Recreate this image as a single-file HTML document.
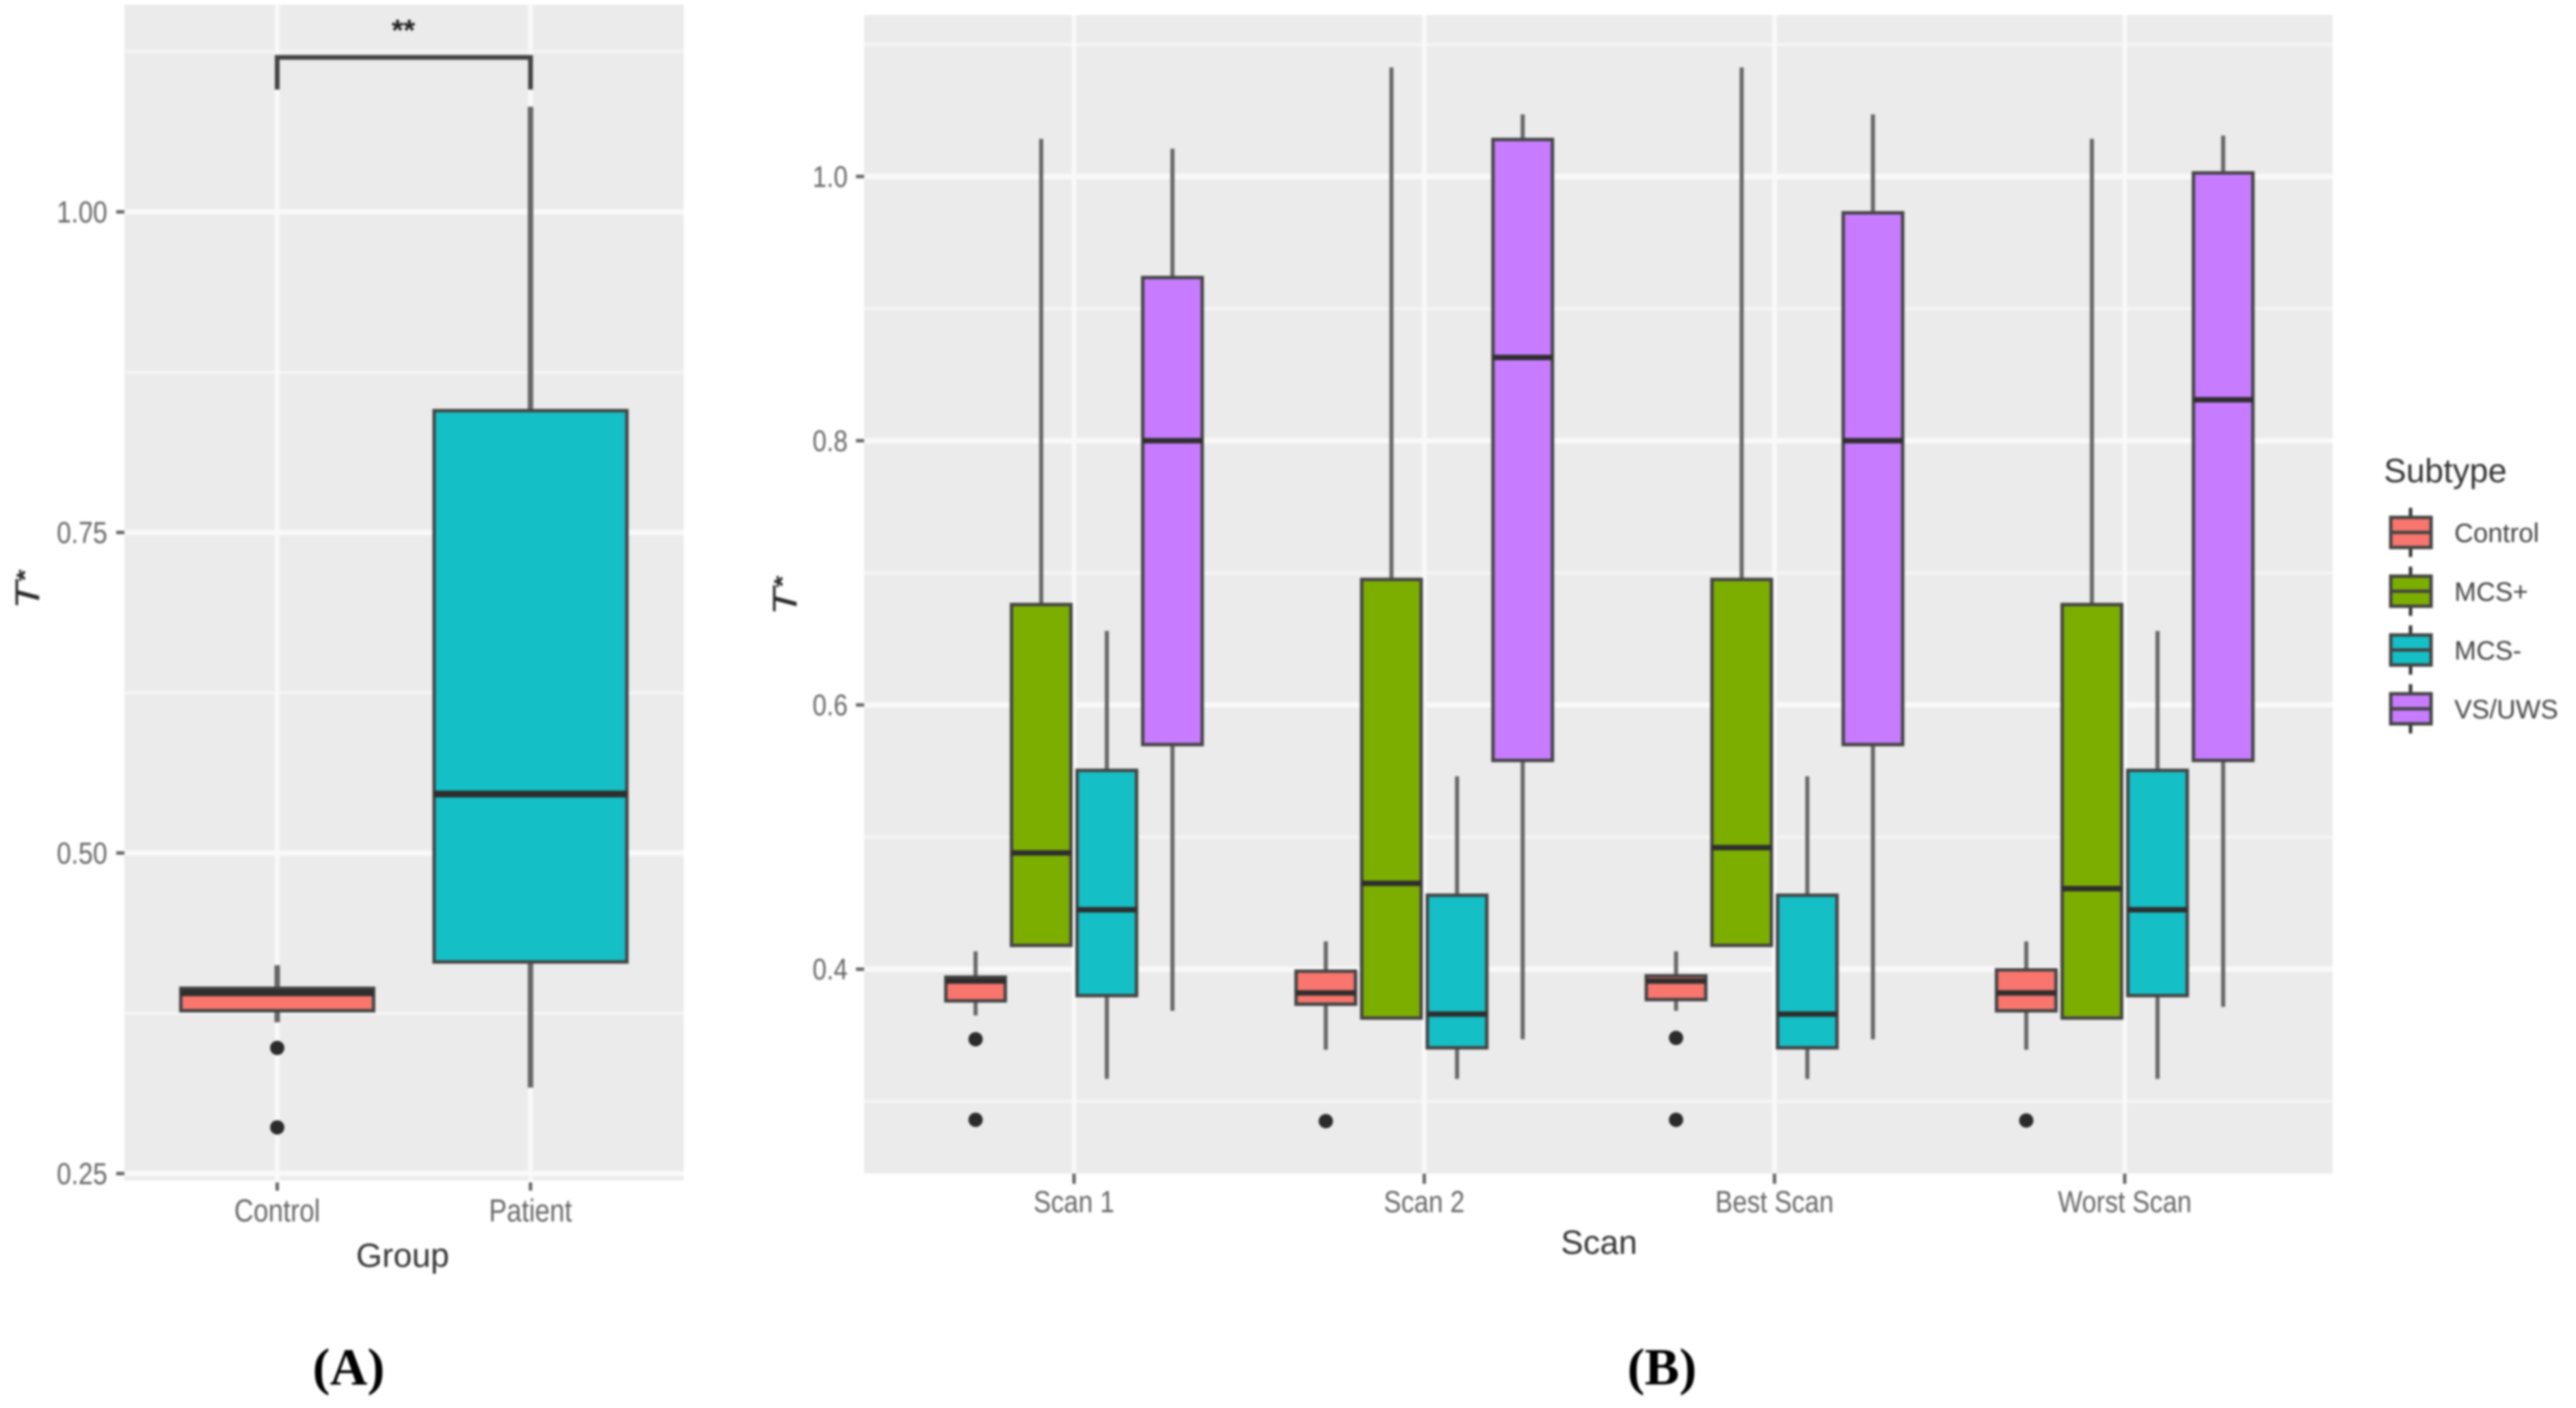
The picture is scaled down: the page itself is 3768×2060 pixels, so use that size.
<!DOCTYPE html>
<html lang="en">
<head>
<meta charset="utf-8">
<title>T* by group and by scan</title>
<style>
html,body{margin:0;padding:0;background:#fff;width:3768px;height:2060px;overflow:hidden}
svg{display:block;filter:blur(1.6px)}
text{font-family:"Liberation Sans",sans-serif}
</style>
</head>
<body>
<svg id="fig" xmlns="http://www.w3.org/2000/svg" width="3768" height="2060" viewBox="0 0 3768 2060"></svg>
<script>
// ---------- Panel A data ----------
const groupCategories = ['Control', 'Patient'];
const groupFillColors = ['#F8766D', '#14BFC5'];
const groupWhiskerHigh = [0.4125, 1.082];
const groupQ3 = [0.3945, 0.845];
const groupMedian = [0.391, 0.546];
const groupQ1 = [0.377, 0.415];
const groupWhiskerLow = [0.368, 0.317];
const groupOutliers = [[0.348, 0.286], []];
const groupMajorTicks = [0.25, 0.50, 0.75, 1.00];
const groupMinorTicks = [0.375, 0.625, 0.875, 1.125];
const groupTickLabels = ['0.25', '0.50', '0.75', '1.00'];

// ---------- Panel B data ----------
const scanCategories = ['Scan 1', 'Scan 2', 'Best Scan', 'Worst Scan'];
const subtypes = ['Control', 'MCS+', 'MCS-', 'VS/UWS'];
const subtypeColors = ['#F8766D', '#7CAE00', '#14BFC5', '#C77CFF'];
// each row is one scan, each column one subtype
const scanWhiskerHigh = [
  [0.4135, 1.0285, 0.656, 1.021],
  [0.421, 1.0825, 0.546, 1.047],
  [0.4135, 1.0825, 0.546, 1.047],
  [0.421, 1.0285, 0.656, 1.031]
];
const scanQ3 = [
  [0.394, 0.676, 0.5505, 0.9235],
  [0.3985, 0.695, 0.456, 1.028],
  [0.395, 0.695, 0.456, 0.9725],
  [0.3995, 0.676, 0.5505, 1.0027]
];
const scanMedian = [
  [0.391, 0.488, 0.445, 0.80],
  [0.382, 0.465, 0.366, 0.863],
  [0.391, 0.492, 0.366, 0.80],
  [0.382, 0.461, 0.445, 0.831]
];
const scanQ1 = [
  [0.376, 0.418, 0.380, 0.57],
  [0.3735, 0.363, 0.3405, 0.558],
  [0.377, 0.418, 0.3405, 0.57],
  [0.3685, 0.363, 0.380, 0.558]
];
const scanWhiskerLow = [
  [0.365, 0.418, 0.317, 0.3685],
  [0.339, 0.363, 0.317, 0.347],
  [0.3685, 0.418, 0.317, 0.347],
  [0.339, 0.363, 0.317, 0.3715]
];
const scanControlOutliers = [
  [0.347, 0.286],
  [0.285],
  [0.348, 0.286],
  [0.2855]
];
const scanMajorTicks = [0.4, 0.6, 0.8, 1.0];
const scanMinorTicks = [0.3, 0.5, 0.7, 0.9, 1.1];
const scanTickLabels = ['0.4', '0.6', '0.8', '1.0'];

const NS = 'http://www.w3.org/2000/svg';
const fig = document.getElementById('fig');

function make(tag, attrs, parent, name) {
  const el = document.createElementNS(NS, tag);
  for (const k in attrs) el.setAttribute(k, attrs[k]);
  
  
  parent.appendChild(el);
  return el;
}
function label(str, x, y, size, fill, anchor, parent, name) {
  const t = make('text', {x: x, y: y + size * 0.36, 'font-size': size, fill: fill, 'text-anchor': anchor}, parent, name);
  t.textContent = str;
  return t;
}
// tick labels in the reference are slightly stretched vertically
function tickLabel(str, x, y, size, anchor, parent, name) {
  const t = label(str, x, y + 2, size, '#666', anchor, parent, name);
  const by = y + 2 + size * 0.36 + size * 0.03;
  t.setAttribute('transform', 'translate(0,' + by + ') scale(1,1.18) translate(0,' + (-by) + ')');
  return t;
}
function panelBackground(g, box, yScale, major, minor, xs) {
  make('rect', {x: box.l, y: box.t, width: box.r - box.l, height: box.b - box.t, fill: '#ebebeb'}, g, 'panel-background');
  minor.forEach(v => make('line', {x1: box.l, x2: box.r, y1: yScale(v), y2: yScale(v), stroke: '#f4f4f4', 'stroke-width': 5}, g, 'minor-gridline'));
  major.forEach(v => make('line', {x1: box.l, x2: box.r, y1: yScale(v), y2: yScale(v), stroke: '#f9f9f9', 'stroke-width': 8}, g, 'major-gridline-y'));
  xs.forEach(x => make('line', {x1: x, x2: x, y1: box.t, y2: box.b, stroke: '#f9f9f9', 'stroke-width': 7}, g, 'major-gridline-x'));
}
function boxplot(g, cx, w, yScale, s, fill, lw) {
  make('line', {x1: cx, x2: cx, y1: yScale(s.high), y2: yScale(s.q3), stroke: '#666', 'stroke-width': lw.whisker}, g, 'whisker-upper');
  make('line', {x1: cx, x2: cx, y1: yScale(s.q1), y2: yScale(s.low), stroke: '#666', 'stroke-width': lw.whisker}, g, 'whisker-lower');
  make('rect', {x: cx - w / 2, y: yScale(s.q3), width: w, height: yScale(s.q1) - yScale(s.q3), fill: fill, stroke: '#444', 'stroke-width': lw.box}, g, 'box');
  make('line', {x1: cx - w / 2, x2: cx + w / 2, y1: yScale(s.med), y2: yScale(s.med), stroke: '#2e2e2e', 'stroke-width': lw.median}, g, 'median-line');
  s.out.forEach(v => make('circle', {cx: cx, cy: yScale(v), r: 10.5, fill: '#2b2b2b'}, g, 'outlier-point'));
}
function yTitle(parent, x, y, name) {
  const t = make('text', {transform: 'translate(' + x + ',' + y + ') rotate(-90) scale(1.35,1)', 'font-size': 50, 'font-style': 'italic', fill: '#2a2a2a'}, parent, name);
  t.appendChild(document.createTextNode('T'));
  const star = document.createElementNS(NS, 'tspan');
  star.setAttribute('dy', '-9');
  star.setAttribute('font-size', '34');
  star.setAttribute('font-weight', 'bold');
  star.setAttribute('font-style', 'normal');
  star.textContent = '*';
  t.appendChild(star);
}

// ---------- Panel A ----------
(function () {
  const g = make('g', {}, fig, 'panel-a');
  const box = {l: 182, r: 1000, t: 7, b: 1727};
  const yA = v => 1717 - (v - 0.25) * 1876;
  const xA = i => 405.5 + i * 370.5;
  panelBackground(g, box, yA, groupMajorTicks, groupMinorTicks, groupCategories.map((c, i) => xA(i)));
  groupMajorTicks.forEach((v, i) => {
    make('line', {x1: 170, x2: 182, y1: yA(v), y2: yA(v), stroke: '#666', 'stroke-width': 5}, g, 'y-tick');
    tickLabel(groupTickLabels[i], 157, yA(v), 38, 'end', g, 'y-tick-label');
  });
  groupCategories.forEach((c, i) => {
    make('line', {x1: xA(i), x2: xA(i), y1: 1730, y2: 1742, stroke: '#666', 'stroke-width': 5}, g, 'x-tick');
    tickLabel(c, xA(i), 1771, 39, 'middle', g, 'x-tick-label');
    boxplot(g, xA(i), 282, yA, {
      high: groupWhiskerHigh[i], q3: groupQ3[i], med: groupMedian[i], q1: groupQ1[i],
      low: groupWhiskerLow[i], out: groupOutliers[i]
    }, groupFillColors[i], {whisker: 8, box: 5, median: 10});
  });
  make('path', {d: 'M' + xA(0) + ' 131V84H' + xA(1) + 'V131', fill: 'none', stroke: '#444', 'stroke-width': 7}, g, 'significance-bracket');
  label('**', 590, 43, 44, '#222', 'middle', g, 'significance-label').setAttribute('font-weight', 'bold');
  label('Group', 589, 1836, 49, '#333', 'middle', g, 'x-axis-title');
  yTitle(g, 57, 892, 'y-axis-title');
  label('(A)', 510, 1998, 76, '#000', 'middle', g, 'panel-a-caption').setAttribute('style', 'font-family:"Liberation Serif",serif;font-weight:bold');
})();

// ---------- Panel B ----------
(function () {
  const g = make('g', {}, fig, 'panel-b');
  const box = {l: 1264, r: 3412, t: 22, b: 1717};
  const yB = v => 1418 - (v - 0.4) * 1933;
  const xB = i => 1571 + i * 512.3;
  const dodge = j => (j - 1.5) * 96;
  panelBackground(g, box, yB, scanMajorTicks, scanMinorTicks, scanCategories.map((c, i) => xB(i)));
  scanMajorTicks.forEach((v, i) => {
    make('line', {x1: 1252, x2: 1264, y1: yB(v), y2: yB(v), stroke: '#666', 'stroke-width': 5}, g, 'y-tick');
    tickLabel(scanTickLabels[i], 1240, yB(v), 37, 'end', g, 'y-tick-label');
  });
  scanCategories.forEach((c, i) => {
    make('line', {x1: xB(i), x2: xB(i), y1: 1717, y2: 1732, stroke: '#666', 'stroke-width': 5}, g, 'x-tick');
    tickLabel(c, xB(i), 1758, 38, 'middle', g, 'x-tick-label');
    subtypes.forEach((st, j) => {
      boxplot(g, xB(i) + dodge(j), 87, yB, {
        high: scanWhiskerHigh[i][j], q3: scanQ3[i][j], med: scanMedian[i][j], q1: scanQ1[i][j],
        low: scanWhiskerLow[i][j], out: j === 0 ? scanControlOutliers[i] : []
      }, subtypeColors[j], {whisker: 6, box: 5, median: 8});
    });
  });
  label('Scan', 2339, 1817, 49, '#333', 'middle', g, 'x-axis-title');
  yTitle(g, 1165, 901, 'y-axis-title');
  label('(B)', 2431, 1998, 76, '#000', 'middle', g, 'panel-b-caption').setAttribute('style', 'font-family:"Liberation Serif",serif;font-weight:bold');

  // legend
  const lg = make('g', {}, fig, 'legend');
  label('Subtype', 3487, 688, 49, '#333', 'start', lg, 'legend-title');
  subtypes.forEach((st, j) => {
    const cy = 779 + j * 86;
    const e = make('g', {}, lg, 'legend-entry');
    make('line', {x1: 3526, x2: 3526, y1: cy - 36, y2: cy + 36, stroke: '#333', 'stroke-width': 5}, e, 'legend-key-whisker');
    make('rect', {x: 3497, y: cy - 22, width: 59, height: 44, fill: subtypeColors[j], stroke: '#444', 'stroke-width': 5}, e, 'legend-key-box');
    make('line', {x1: 3497, x2: 3556, y1: cy, y2: cy, stroke: '#444', 'stroke-width': 5}, e, 'legend-key-median');
    label(st, 3590, cy, 38.5, '#444', 'start', e, 'legend-label');
  });
})();
</script>
</body>
</html>
